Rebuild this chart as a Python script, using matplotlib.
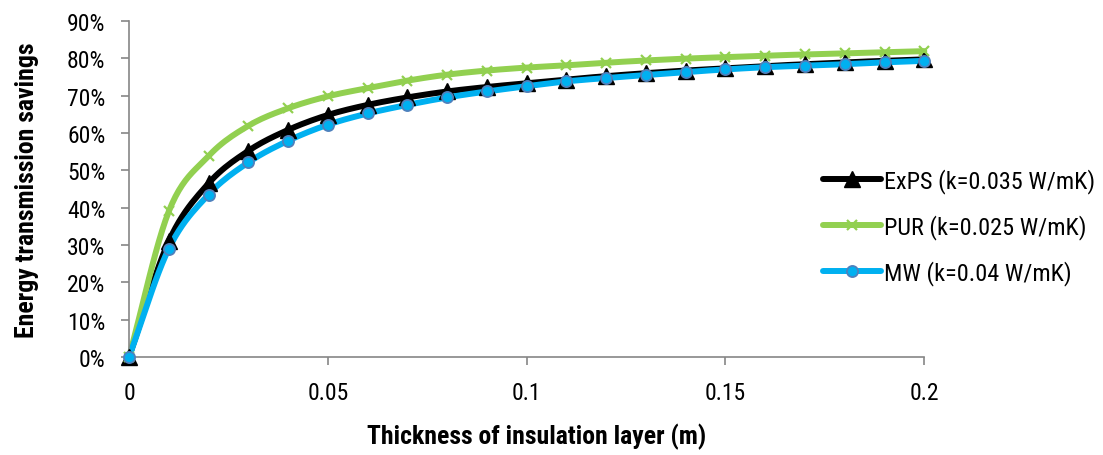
import numpy as np
import matplotlib
matplotlib.use("Agg")
import matplotlib.pyplot as plt

thickness = [0.00, 0.01, 0.02, 0.03, 0.04, 0.05, 0.06, 0.07, 0.08, 0.09, 0.10,
             0.11, 0.12, 0.13, 0.14, 0.15, 0.16, 0.17, 0.18, 0.19, 0.20]
exps = [0, 31.0, 46.5, 55.2, 60.8, 64.8, 67.5, 69.5, 71.1, 72.3, 73.3,
        74.3, 75.2, 76.0, 76.7, 77.3, 77.9, 78.4, 78.9, 79.3, 79.7]
pur = [0, 39.0, 53.8, 61.9, 66.6, 69.8, 72.0, 74.0, 75.6, 76.7, 77.5,
       78.1, 78.8, 79.4, 79.9, 80.3, 80.7, 81.0, 81.3, 81.6, 81.9]
mw = [0, 29.0, 43.5, 52.1, 57.9, 62.2, 65.2, 67.5, 69.5, 71.1, 72.5,
      73.8, 74.7, 75.5, 76.3, 77.0, 77.6, 78.0, 78.4, 78.9, 79.3]
labels = ["ExPS (k=0.035 W/mK)", "PUR (k=0.025 W/mK)", "MW (k=0.04 W/mK)"]
x_ticks = [0, 0.05, 0.1, 0.15, 0.2]
x_tick_labels = ['0', '0.05', '0.1', '0.15', '0.2']
y_ticks = [0, 10, 20, 30, 40, 50, 60, 70, 80, 90]

plt.rcParams['font.family'] = ['Roboto Condensed', 'Liberation Sans', 'DejaVu Sans']


def smooth(x, y, n=12):
    # Catmull-Rom rendering of the line between data points (Excel-like smoothing)
    x = np.asarray(x, float); y = np.asarray(y, float)
    P = np.column_stack([x, y])
    P = np.vstack([P[0] - (P[1] - P[0]), P, P[-1] + (P[-1] - P[-2])])
    out = []
    t = np.linspace(0, 1, n, endpoint=False)[:, None]
    for i in range(1, len(P) - 2):
        p0, p1, p2, p3 = P[i - 1], P[i], P[i + 1], P[i + 2]
        seg = 0.5 * ((2 * p1) + (-p0 + p2) * t + (2 * p0 - 5 * p1 + 4 * p2 - p3) * t ** 2
                     + (-p0 + 3 * p1 - 3 * p2 + p3) * t ** 3)
        out.append(seg)
    out.append(P[-2][None, :])
    out = np.vstack(out)
    return out[:, 0], out[:, 1]


fig = plt.figure(figsize=(11.03, 4.56), dpi=100)
ax = fig.add_axes([0.117, 0.215, 0.721, 0.737])

series = [
    (exps, 'black', dict(marker='^', markersize=12, markerfacecolor='black', markeredgecolor='black')),
    (pur, '#92D050', dict(marker='x', markersize=7, markeredgewidth=1.6, markeredgecolor='#92D050')),
    (mw, '#00B0F0', dict(marker='o', markersize=8, markerfacecolor='#00B0F0', markeredgecolor='#4F81BD', markeredgewidth=1.3)),
]
handles = []
for (vals, col, mk), lab in zip(series, labels):
    sx, sy = smooth(thickness, vals)
    ax.plot(sx, sy, color=col, lw=4.3, solid_capstyle='round', zorder=2, clip_on=False)
    ax.plot(thickness, vals, linestyle='none', zorder=3, clip_on=False, **mk)
    h, = ax.plot([], [], color=col, lw=4.3, solid_capstyle='round', **mk)
    handles.append(h)

ax.set_xlim(0, 0.2)
ax.set_ylim(0, 90)
ax.set_xticks(x_ticks)
ax.set_xticklabels(x_tick_labels)
ax.set_yticks(y_ticks)
ax.set_yticklabels([f"{v}%" for v in y_ticks])
for s in ['top', 'right']:
    ax.spines[s].set_visible(False)
for s in ['left', 'bottom']:
    ax.spines[s].set_color('#868686')
    ax.spines[s].set_linewidth(1.2)
ax.tick_params(axis='both', direction='out', length=6, width=1.2, color='#868686', labelsize=17, labelcolor='black')
ax.tick_params(axis='x', pad=11)
ax.tick_params(axis='y', pad=11)

ax.set_xlabel("Thickness of insulation layer (m)", fontsize=18.5, fontweight='bold', labelpad=14)
ax.xaxis.label.set_x(0.513)
ax.set_ylabel("Energy transmission savings", fontsize=18.5, fontweight='bold', labelpad=20)

leg = fig.legend(handles=handles, labels=labels, loc='upper left', bbox_to_anchor=(0.735, 0.655),
                 frameon=False, fontsize=17.5, handlelength=2.4, labelspacing=0.85, handletextpad=0.1,
                 borderpad=0)

fig.savefig("out.png", dpi=100)
